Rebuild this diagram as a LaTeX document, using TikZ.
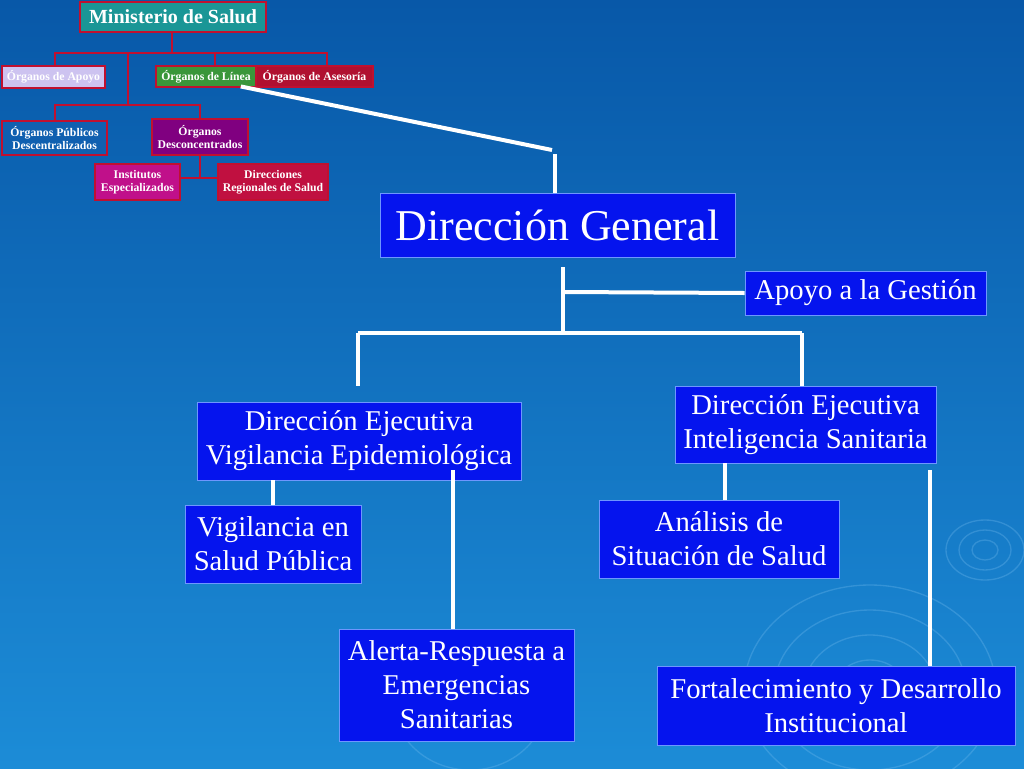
\documentclass[tikz,border=0pt]{standalone}
\usepackage{fontspec}
\setmainfont{Liberation Serif}
\begin{document}
\begin{tikzpicture}[x=0.75pt,y=-0.75pt,
  rl/.style={draw={rgb,255:red,192;green,16;blue,48},line width=1.6pt},
  wl/.style={draw=white,line width=3pt},
  sb/.style={draw={rgb,255:red,192;green,16;blue,48},line width=1.2pt,text=white,font=\fontsize{8.8}{9.6}\selectfont\bfseries,align=center,inner sep=0.5pt},
  bb/.style={fill={rgb,255:red,5;green,20;blue,238},draw={rgb,255:red,110;green,150;blue,255},line width=0.5pt,text=white,align=center,inner sep=1pt},
  big/.style={font=\fontsize{21.5}{25.5}\selectfont},
]
\useasboundingbox (0,0) rectangle (1024,768);
\shade[top color={rgb,255:red,8;green,88;blue,168},bottom color={rgb,255:red,28;green,140;blue,215}] (0,0) rectangle (1024,768);
% ripples
\begin{scope}[draw={rgb,255:red,120;green,190;blue,240},opacity=0.3,line width=1pt]
\foreach \r in {10,20,30} \draw (985,550) ellipse ({\r*1.3} and \r);
\foreach \r in {30,55,80,105} \draw (870,690) ellipse ({\r*1.2} and \r);
\foreach \r in {40,70} \draw (470,700) ellipse ({\r*1.1} and \r);
\end{scope}

% top chart
\node[sb,fill={rgb,255:red,26;green,150;blue,150},minimum width=139.5pt,minimum height=22.5pt,font=\fontsize{15}{16}\selectfont\bfseries] (min) at (173,17) {Ministerio de Salud};
\node[sb,fill={rgb,255:red,205;green,195;blue,240},minimum width=77.25pt,minimum height=16.5pt] (apo) at (53.5,77) {Órganos de Apoyo};
\node[sb,fill={rgb,255:red,58;green,150;blue,58},minimum width=75pt,minimum height=15.75pt] (lin) at (206,76.5) {Órganos de Línea};
\node[sb,fill={rgb,255:red,176;green,16;blue,48},minimum width=87.75pt,minimum height=15.75pt] (ase) at (314.5,76.5) {Órganos de Asesoría};
\node[sb,fill={rgb,255:red,16;green,96;blue,176},minimum width=78.75pt,minimum height=25.5pt] (pub) at (54.5,138) {Órganos Públicos\\Descentralizados};
\node[sb,fill={rgb,255:red,128;green,0;blue,128},minimum width=72pt,minimum height=27pt] (des) at (200,137) {Órganos\\Desconcentrados};
\node[sb,fill={rgb,255:red,192;green,16;blue,138},minimum width=63.75pt,minimum height=27pt] (ins) at (137.5,182) {Institutos\\Especializados};
\node[sb,fill={rgb,255:red,192;green,16;blue,64},minimum width=82.5pt,minimum height=27pt] (dir) at (273,182) {Direcciones\\Regionales de Salud};

\coordinate (j1) at (172,53);
\coordinate (j2) at (215,53);
\coordinate (j3) at (128,53);
\coordinate (j4) at (128,105);
\coordinate (j5) at (200,178);
\draw[rl] (min.south -| j1) -- (j1);
\draw[rl] (apo.north -| 55,0) -- (55,53) -- (327,53) -- (ase.north -| 327,0);
\draw[rl] (j2) -- (lin.north -| j2);
\draw[rl] (j3) -- (j4);
\draw[rl] (pub.north -| 55,0) -- (55,105) -- (200,105) -- (des.north);
\draw[rl] (des.south) -- (j5);
\draw[rl] (ins.east |- j5) -- (dir.west |- j5);

% main chart
\node[bb,minimum width=266.25pt,minimum height=48pt,font=\fontsize{33}{36}\selectfont] (gen) at (557.5,225) {Dirección General};
\node[bb,minimum width=180.75pt,minimum height=33pt,big] (ges) at (865.5,293) {Apoyo a la Gestión};
\node[bb,minimum width=243pt,minimum height=58.5pt,big] (vep) at (359,441) {Dirección Ejecutiva\\Vigilancia Epidemiológica};
\node[bb,minimum width=195.75pt,minimum height=57.75pt,big] (int) at (805.5,424.5) {Dirección Ejecutiva\\Inteligencia Sanitaria};
\node[bb,minimum width=132pt,minimum height=58.5pt,big] (vsp) at (273,544) {Vigilancia en\\Salud Pública};
\node[bb,minimum width=176.25pt,minimum height=84pt,big] (ale) at (456.5,685) {Alerta-Respuesta a\\Emergencias\\Sanitarias};
\node[bb,minimum width=180pt,minimum height=58.5pt,big] (ana) at (719,539) {Análisis de\\Situación de Salud};
\node[bb,minimum width=268.5pt,minimum height=59.25pt,big] (for) at (836,705.5) {Fortalecimiento y Desarrollo\\Institucional};

\coordinate (c1) at (552,150);
\coordinate (c2) at (555,154);
\coordinate (c3) at (563,267);
\coordinate (c4) at (563,333);
\coordinate (c5) at (565,292);
\coordinate (c6) at (358,333);
\coordinate (c7) at (358,386);
\coordinate (c8) at (802,333);
\coordinate (c9) at (453,470);
\coordinate (c10) at (930,470);

\draw[wl] ([xshift=-12pt,yshift=1pt]lin.south east) -- (c1);
\draw[wl] (c2) -- (c2 |- gen.north);
\draw[wl] (c3) -- (c4);
\draw[wl] (c5) -- (ges.west);
\draw[wl] (c6) -- (c8);
\draw[wl] (c6) -- (c7);
\draw[wl] (c8) -- (int.north -| c8);
\draw[wl] (vep.south -| 273,0) -- (vsp.north -| 273,0);
\draw[wl] (c9) -- (ale.north -| c9);
\draw[wl] (int.south -| 725,0) -- (ana.north -| 725,0);
\draw[wl] (c10) -- (for.north -| c10);
\end{tikzpicture}
\end{document}
